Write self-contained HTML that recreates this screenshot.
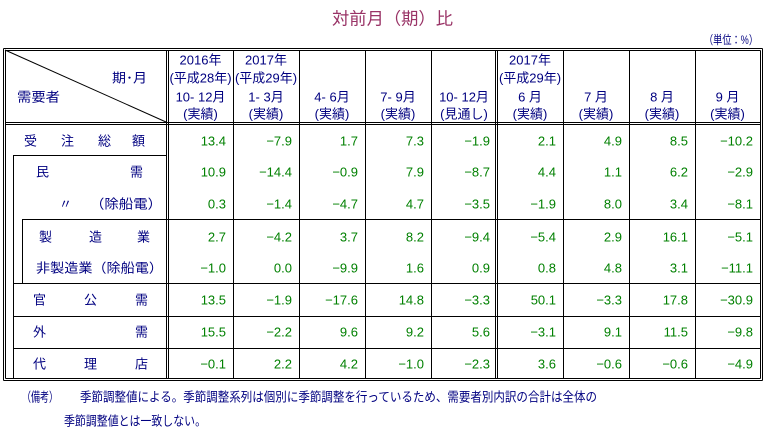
<!DOCTYPE html>
<html><head><meta charset="utf-8"><style>
body{margin:0;background:#fff;}
svg text{font-family:"Liberation Sans","Noto Sans CJK JP",sans-serif;}
</style></head><body>
<svg id="t" width="767" height="439" viewBox="0 0 767 439" xmlns="http://www.w3.org/2000/svg">
<text x="332" y="19" font-size="17" fill="#993366" dominant-baseline="central" textLength="121" lengthAdjust="spacingAndGlyphs">対前月（期）比</text>
<text x="704" y="40" font-size="12" fill="#000080" dominant-baseline="central" textLength="54" lengthAdjust="spacingAndGlyphs">（単位：%）</text>
<g id="lines" stroke="#000" stroke-width="1" fill="none"></g>
<g id="txt"></g>
</svg>
<script>
const colHeaders=[["2016年","(平成28年)","10- 12月","(実績)"],["2017年","(平成29年)","1- 3月","(実績)"],["","","4- 6月","(実績)"],["","","7- 9月","(実績)"],["","","10- 12月","(見通し)"],["2017年","(平成29年)","6 月","(実績)"],["","","7 月","(実績)"],["","","8 月","(実績)"],["","","9 月","(実績)"]];
const row1=[13.4,-7.9,1.7,7.3,-1.9,2.1,4.9,8.5,-10.2];
const row2=[10.9,-14.4,-0.9,7.9,-8.7,4.4,1.1,6.2,-2.9];
const row3=[0.3,-1.4,-4.7,4.7,-3.5,-1.9,8.0,3.4,-8.1];
const row4=[2.7,-4.2,3.7,8.2,-9.4,-5.4,2.9,16.1,-5.1];
const row5=[-1.0,0.0,-9.9,1.6,0.9,0.8,4.8,3.1,-11.1];
const row6=[13.5,-1.9,-17.6,14.8,-3.3,50.1,-3.3,17.8,-30.9];
const row7=[15.5,-2.2,9.6,9.2,5.6,-3.1,9.1,11.5,-9.8];
const row8=[-0.1,2.2,4.2,-1.0,-2.3,3.6,-0.6,-0.6,-4.9];
const rows=[row1,row2,row3,row4,row5,row6,row7,row8];
const NS="http://www.w3.org/2000/svg";
const colX=[168,233,299,365,431,497,563,629,695,760];
const rowY=[141,172,204,237,268,300,332,364];
const L=document.getElementById('lines'),T=document.getElementById('txt');
function ln(x1,y1,x2,y2){const e=document.createElementNS(NS,'line');e.setAttribute('x1',x1);e.setAttribute('y1',y1);e.setAttribute('x2',x2);e.setAttribute('y2',y2);


L.appendChild(e);}
function tx(x,y,s,fill,anchor,name,len){const e=document.createElementNS(NS,'text');e.setAttribute('x',x);e.setAttribute('y',y);e.setAttribute('font-size','13');e.setAttribute('fill',fill);e.setAttribute('text-anchor',anchor||'start');e.setAttribute('dominant-baseline','central');e.textContent=s;
if(len){e.setAttribute('textLength',len);e.setAttribute('lengthAdjust','spacingAndGlyphs');}


T.appendChild(e);}
[[3.5,48.5,762.5,380.5],[5.5,50.5,760.5,378.5]].forEach(r=>{ln(r[0],r[1],r[2],r[1]);ln(r[0],r[3],r[2],r[3]);ln(r[0],r[1],r[0],r[3]);ln(r[2],r[1],r[2],r[3]);});
ln(5,122.5,760,122.5);ln(5,124.5,760,124.5);
ln(166.5,50,166.5,378);ln(168.5,50,168.5,378);
ln(495.5,50,495.5,378);ln(497.5,50,497.5,378);
[233,299,365,431,563,629,695].forEach(x=>ln(x+0.5,50,x+0.5,378));
ln(5,50,166,122);
ln(13.5,155.5,166,155.5);ln(13.5,155,13.5,378);
ln(22.5,219.5,760,219.5);ln(22.5,219,22.5,283);
[283,316,348].forEach(y=>ln(13,y+0.5,760,y+0.5));
tx(112,78,"期･月","#000080","start","header-period",35);
tx(17,97,"需要者","#000080","start","header-demand",43);
colHeaders.forEach((h,i)=>{const cx=(colX[i]+colX[i+1])/2;[60,78,97,114].forEach((y,j)=>{if(h[j])tx(cx,y,h[j],"#000080","middle","column-header");});});
const labels=[[[24,"受"],[61,"注"],[98,"総"],[132,"額"]],[[36,"民"],[130,"需"]],[[59,"〃"],[90,"（除船電）",72]],[[39,"製"],[89,"造"],[137,"業"]],[[36,"非製造業（除船電）",127]],[[33,"官"],[84,"公"],[135,"需"]],[[33,"外"],[135,"需"]],[[33,"代"],[84,"理"],[135,"店"]]];
labels.forEach((l,r)=>l.forEach(p=>tx(p[0],rowY[r],p[1],"#000080","start","row-label",p[2])));
rows.forEach((vals,r)=>vals.forEach((v,c)=>{const s=(v<0?"−":"")+Math.abs(v).toFixed(1);tx(colX[c+1]-7,rowY[r],s,"#008000","end","cell-value");}));
tx(22,397,"（備考）","#000080","start","note-label",36);
tx(80,397,"季節調整値による。季節調整系列は個別に季節調整を行っているため、需要者別内訳の合計は全体の","#000080","start","note-text",517);
tx(64,421,"季節調整値とは一致しない。","#000080","start","note-text-2",142);
</script>
</body></html>
